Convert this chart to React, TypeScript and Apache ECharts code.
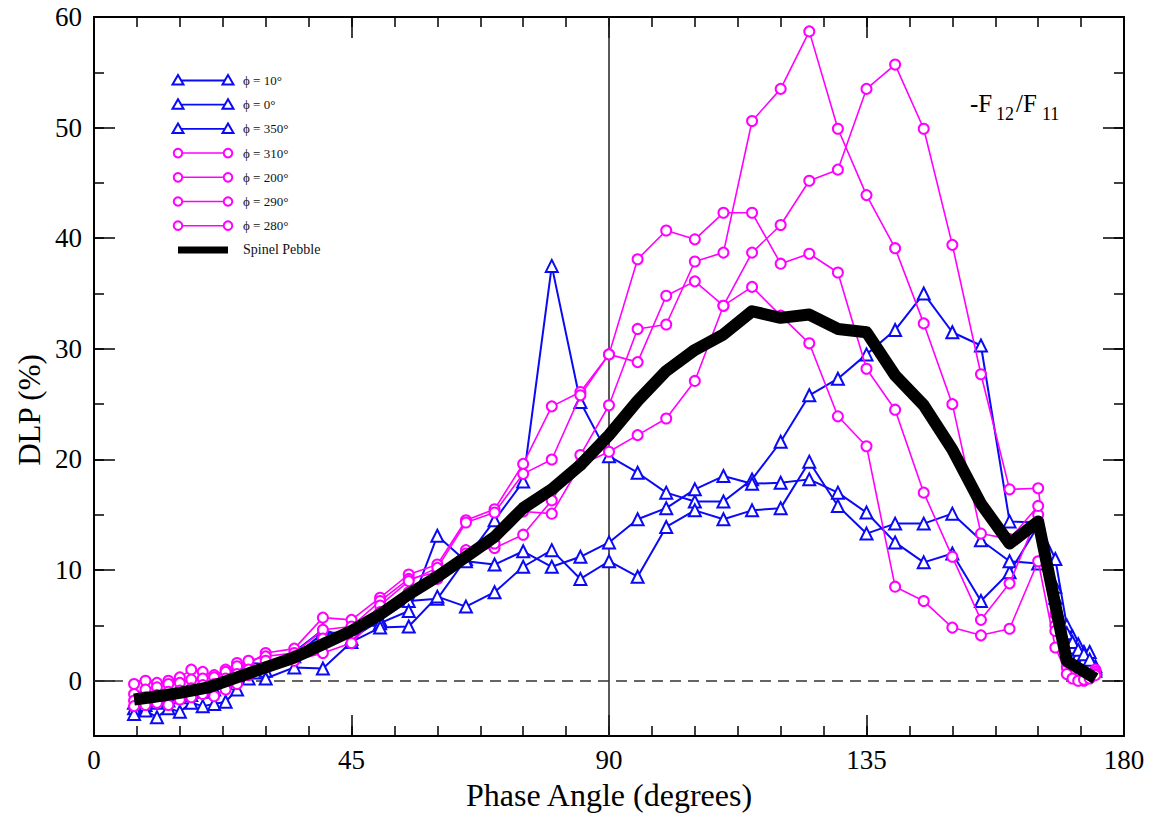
import React, { useEffect, useRef } from "react";
import * as echarts from "echarts";

// ---- Data ----
const phaseAngles = [
  7, 9, 11, 13, 15, 17, 19, 21, 23, 25, 27,
  30, 35, 40, 45, 50, 55, 60, 65, 70, 75, 80, 85, 90, 95, 100, 105, 110, 115, 120, 125, 130, 135, 140, 145, 150, 155, 160, 165,
  168, 170, 171, 172, 173, 174, 175,
];

const phi10 = [
  -2.0, -1.6, -1.5, -1.2, -1.0, -0.6, -0.5, -0.2, 0.5, 1.2, 1.6,
  1.5, 2.6, 4.6, 3.8, 5.5, 7.2, 7.4, 11.0, 14.5, 18.0, 37.5, 25.2, 20.3, 18.8, 17.0, 16.2, 16.2, 18.2, 21.6, 25.8, 27.3, 29.5, 31.7, 35.0, 31.5, 30.3, 14.4, 14.3,
  11.0, 5.0, 4.0, 3.3, 2.6, 2.6, 1.3,
];

const phi0 = [
  -2.5, -2.2, -2.0, -1.8, -1.5, -1.3, -1.0, -0.8, -0.2, 0.5, 1.0,
  0.9, 2.2, 4.3, 4.4, 5.2, 6.3, 13.1, 10.8, 10.5, 11.7, 10.3, 11.2, 12.5, 14.6, 15.6, 17.3, 18.5, 17.8, 17.9, 18.2, 17.0, 15.2, 12.5, 10.7, 11.5, 7.2, 9.8, 14.0,
  7.5, 3.6, 3.0, 2.3, 1.9, 1.5, 0.9,
];

const phi350 = [
  -3.0, -2.7, -3.3, -2.5, -2.8, -2.0, -2.3, -2.1, -1.9, -0.8, 0.2,
  0.2, 1.2, 1.1, 3.5, 4.8, 4.9, 7.6, 6.7, 8.0, 10.3, 11.8, 9.2, 10.8, 9.4, 13.9, 15.4, 14.6, 15.4, 15.6, 19.8, 15.8, 13.3, 14.2, 14.2, 15.1, 12.7, 10.8, 10.6,
  8.5, 4.3, 3.5, 2.8, 2.4, 1.9, 1.1,
];

const phi310 = [
  -0.3, 0.0, -0.2, 0.0, 0.3, 1.0, 0.8, 0.5, 1.0, 1.6, 1.5,
  2.5, 2.9, 5.7, 5.5, 7.5, 9.6, 10.5, 14.5, 15.5, 19.6, 24.8, 26.1, 29.5, 38.1, 40.7, 39.9, 42.3, 42.3, 37.7, 38.6, 36.9, 28.2, 24.5, 17.0, 11.2, 5.5, 8.8, 15.0,
  5.0, 1.8, 0.8, 0.3, 0.2, 0.5, 1.0,
];

const phi200 = [
  -1.2, -0.8, -0.6, -0.3, -0.2, 0.1, 0.2, 0.3, 0.8, 1.3, 1.8,
  2.2, 2.5, 4.6, 4.9, 7.2, 9.2, 9.8, 11.8, 12.0, 13.2, 16.3, 20.4, 24.9, 31.8, 32.2, 37.9, 38.7, 50.6, 53.5, 58.7, 49.9, 43.9, 39.1, 32.3, 25.0, 13.3, 12.8, 15.8,
  4.5, 1.2, 0.5, 0.1, 0.0, 0.3, 0.8,
];

const phi290 = [
  -1.8, -1.5, -1.3, -1.0, -0.9, -0.7, -0.4, -0.3, 0.2, 0.6, 1.0,
  1.8, 2.2, 3.8, 4.2, 6.8, 9.0, 10.2, 14.3, 15.2, 18.7, 20.0, 25.8, 29.5, 28.8, 34.8, 36.1, 33.9, 38.7, 41.2, 45.2, 46.2, 53.5, 55.7, 49.9, 39.4, 27.7, 17.3, 17.4,
  6.0, 1.7, 0.9, 0.4, 0.2, 0.3, 0.6,
];

const phi280 = [
  -2.3, -2.2, -2.0, -2.2, -1.7, -1.5, -1.2, -1.4, -0.8, -0.3, 0.5,
  1.2, 1.8, 2.5, 3.4, 6.2, 8.0, 9.2, 11.5, 12.4, 15.3, 15.1, 19.5, 20.7, 22.2, 23.7, 27.1, 33.9, 35.6, 33.0, 30.5, 23.9, 21.2, 8.5, 7.2, 4.8, 4.1, 4.7, 10.8,
  3.0, 0.6, 0.2, 0.0, 0.1, 0.2, 0.5,
];

const spinelAngles = [7, 10, 15, 20, 25, 30, 35, 40, 45, 50, 55, 60, 65, 70, 75, 80, 85, 90, 95, 100, 105, 110, 115, 120, 125, 130, 135, 140, 145, 150, 155, 160, 165, 170, 175];
const spinelPebble = [-1.7, -1.5, -1.1, -0.6, 0.3, 1.2, 2.1, 3.3, 4.5, 6.0, 7.8, 9.4, 11.2, 13.0, 15.6, 17.3, 19.5, 22.2, 25.3, 28.0, 29.9, 31.3, 33.4, 32.8, 33.1, 31.8, 31.5, 27.6, 24.9, 20.9, 16.0, 12.4, 14.4, 1.8, 0.2];

const xMajorTicks = [0, 45, 90, 135, 180];
const yMajorTicks = [0, 10, 20, 30, 40, 50, 60];

const blueNames = ["ϕ = 10°", "ϕ = 0°", "ϕ = 350°"];
const magentaNames = ["ϕ = 310°", "ϕ = 200°", "ϕ = 290°", "ϕ = 280°"];
const spinelName = "Spinel Pebble";

// ---- styling ----
const BLUE = "#0a0af5";
const MAGENTA = "#ff00ff";
const SERIF = '"Liberation Serif", "Times New Roman", "DejaVu Serif", serif';

const pairs = (xs: number[], ys: number[]) => xs.map((x, i) => [x, ys[i]]);

export default function App() {
  const ref = useRef<HTMLDivElement>(null);

  useEffect(() => {
    if (!ref.current) return;
    const chart = echarts.init(ref.current, null, { renderer: "svg" });

    const blueData = [phi10, phi0, phi350];
    const magData = [phi310, phi200, phi290, phi280];

    const series: any[] = [];
    blueData.forEach((d, i) => {
      series.push({
        name: blueNames[i],
        type: "line",
        data: pairs(phaseAngles, d),
        symbol: "emptyTriangle",
        symbolSize: 12,
        lineStyle: { color: BLUE, width: 2 },
        itemStyle: { color: BLUE, borderColor: BLUE, borderWidth: 2.2 },
        z: 3,
        ...(i === 0
          ? {
              markLine: {
                silent: true,
                symbol: ["none", "none"],
                label: { show: false },
                z: 1,
                data: [
                  { xAxis: 90, lineStyle: { color: "#222", width: 1.5, type: "solid" } },
                  { yAxis: 0, lineStyle: { color: "#333", width: 1.5, type: [11, 7] } },
                ],
              },
            }
          : {}),
      });
    });
    magData.forEach((d, i) => {
      series.push({
        name: magentaNames[i],
        type: "line",
        data: pairs(phaseAngles, d),
        symbol: "emptyCircle",
        symbolSize: 10,
        lineStyle: { color: MAGENTA, width: 1.6 },
        itemStyle: { color: MAGENTA, borderColor: MAGENTA, borderWidth: 2.2 },
        z: 4,
      });
    });
    series.push({
      name: spinelName,
      type: "line",
      data: pairs(spinelAngles, spinelPebble),
      symbol: "none",
      lineStyle: { color: "#000", width: 12, join: "round", cap: "butt" },
      z: 6,
    });

    const axisLineStyle = { color: "#000", width: 2 };
    const tickStyle = { color: "#000", width: 1.5 };

    const xAxisBase = { type: "value", min: 0, max: 180, splitLine: { show: false } };
    const yAxisBase = { type: "value", min: -5, max: 60, interval: 5, splitLine: { show: false } };

    // legend drawn with graphic primitives (line with a symbol at each end)
    const legendX1 = 178;
    const legendX2 = 228;
    const legendTextX = 243;
    const rowY = (i: number) => 80.5 + i * 24.2;
    const legendGraphics: any[] = [];
    const tri = (cx: number, cy: number) => ({
      type: "polygon",
      shape: { points: [[cx, cy - 5.5], [cx + 5.5, cy + 4], [cx - 5.5, cy + 4]] },
      style: { fill: "#fff", stroke: BLUE, lineWidth: 2 },
      z: 10,
    });
    const circ = (cx: number, cy: number) => ({
      type: "circle",
      shape: { cx, cy, r: 4.3 },
      style: { fill: "#fff", stroke: MAGENTA, lineWidth: 2 },
      z: 10,
    });
    const allNames = [...blueNames, ...magentaNames];
    allNames.forEach((name, i) => {
      const y = rowY(i);
      const isBlue = i < 3;
      legendGraphics.push({
        type: "line",
        shape: { x1: legendX1, y1: y, x2: legendX2, y2: y },
        style: { stroke: isBlue ? BLUE : MAGENTA, lineWidth: isBlue ? 1.8 : 1.5 },
        z: 9,
      });
      legendGraphics.push(isBlue ? tri(legendX1, y) : circ(legendX1, y));
      legendGraphics.push(isBlue ? tri(legendX2, y) : circ(legendX2, y));
      legendGraphics.push({
        type: "text",
        x: legendTextX,
        y,
        style: { text: name, fontSize: 13, fontFamily: SERIF, fill: "#111", verticalAlign: "middle", align: "left" },
        z: 10,
      });
    });
    const yb = rowY(7);
    legendGraphics.push({
      type: "line",
      shape: { x1: legendX1, y1: yb, x2: legendX2, y2: yb },
      style: { stroke: "#000", lineWidth: 7 },
      z: 9,
    });
    legendGraphics.push({
      type: "text",
      x: legendTextX,
      y: yb,
      style: { text: spinelName, fontSize: 14, fontFamily: SERIF, fill: "#111", verticalAlign: "middle", align: "left" },
      z: 10,
    });

    const annot = [
      { text: "-F", x: 970, y: 103, size: 25 },
      { text: "12", x: 996, y: 114, size: 18 },
      { text: "/F", x: 1016, y: 103, size: 25 },
      { text: "11", x: 1042, y: 114, size: 18 },
    ].map((a) => ({
      type: "text",
      x: a.x,
      y: a.y,
      style: { text: a.text, fontSize: a.size, fontFamily: SERIF, fill: "#000", verticalAlign: "middle", align: "left" },
      z: 10,
    }));

    chart.setOption({
      animation: false,
      backgroundColor: "#fff",
      grid: { left: 94, right: 36, top: 17, bottom: 79, containLabel: false },
      xAxis: [
        {
          ...xAxisBase,
          position: "bottom",
          interval: 7.5,
          axisLine: { show: true, onZero: false, lineStyle: axisLineStyle },
          axisTick: { show: true, inside: true, length: 10, lineStyle: tickStyle },
          axisLabel: {
            show: true,
            margin: 10,
            fontSize: 27,
            fontFamily: SERIF,
            color: "#000",
            formatter: (v: number) => (xMajorTicks.indexOf(v) >= 0 ? String(v) : ""),
          },
        },
        {
          ...xAxisBase,
          position: "bottom",
          interval: 45,
          axisLine: { show: false, onZero: false },
          axisTick: { show: true, inside: true, length: 21, lineStyle: tickStyle },
          axisLabel: { show: false },
        },
        {
          ...xAxisBase,
          position: "top",
          interval: 7.5,
          axisLine: { show: true, onZero: false, lineStyle: axisLineStyle },
          axisTick: { show: true, inside: true, length: 10, lineStyle: tickStyle },
          axisLabel: { show: false },
        },
        {
          ...xAxisBase,
          position: "top",
          interval: 45,
          axisLine: { show: false, onZero: false },
          axisTick: { show: true, inside: true, length: 21, lineStyle: tickStyle },
          axisLabel: { show: false },
        },
      ],
      yAxis: [
        {
          ...yAxisBase,
          position: "left",
          axisLine: { show: true, onZero: false, lineStyle: axisLineStyle },
          axisTick: { show: true, inside: true, length: 10, lineStyle: tickStyle },
          axisLabel: {
            show: true,
            margin: 12,
            fontSize: 27,
            fontFamily: SERIF,
            color: "#000",
            formatter: (v: number) => (yMajorTicks.indexOf(v) >= 0 ? String(v) : ""),
          },
        },
        {
          ...yAxisBase,
          position: "left",
          axisLine: { show: false, onZero: false },
          axisTick: { show: true, inside: true, length: 21, lineStyle: tickStyle, customValues: yMajorTicks },
          axisLabel: { show: false },
        },
        {
          ...yAxisBase,
          position: "right",
          axisLine: { show: true, onZero: false, lineStyle: axisLineStyle },
          axisTick: { show: true, inside: true, length: 10, lineStyle: tickStyle },
          axisLabel: { show: false },
        },
        {
          ...yAxisBase,
          position: "right",
          axisLine: { show: false, onZero: false },
          axisTick: { show: true, inside: true, length: 21, lineStyle: tickStyle, customValues: yMajorTicks },
          axisLabel: { show: false },
        },
      ],
      series,
      graphic: [
        ...legendGraphics,
        ...annot,
        {
          type: "text",
          x: 609,
          y: 795,
          style: { text: "Phase Angle (degrees)", fontSize: 32, fontFamily: SERIF, fill: "#000", align: "center", verticalAlign: "middle" },
          z: 10,
        },
        {
          type: "text",
          x: 29,
          y: 410,
          rotation: Math.PI / 2,
          style: { text: "DLP (%)", fontSize: 31, fontFamily: SERIF, fill: "#000", align: "center", verticalAlign: "middle" },
          z: 10,
        },
      ],
    });

    return () => chart.dispose();
  }, []);

  return (
    <div
      ref={ref}
      style={{ position: "absolute", left: 0, top: 0, width: 1160, height: 815, background: "#fff" }}
    />
  );
}
